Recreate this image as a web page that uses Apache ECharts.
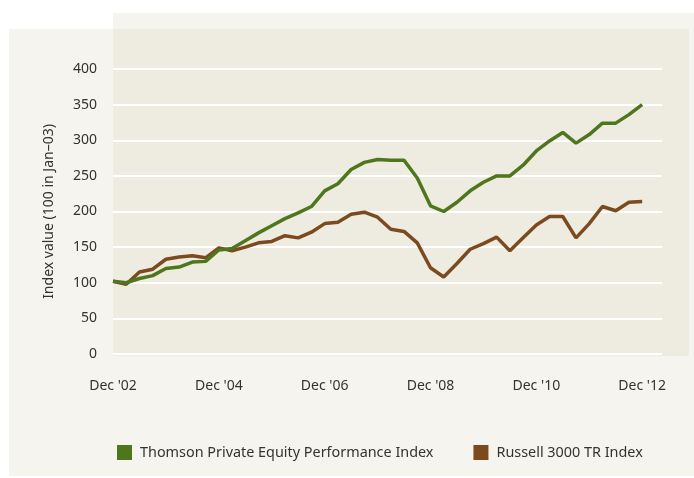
<!DOCTYPE html>
<html lang="en">
<head>
    <meta charset="UTF-8">
    <title>Index value</title>
    <script src="https://cdn.jsdelivr.net/npm/echarts@6/dist/echarts.min.js"></script>
    <style>
        html, body { margin: 0; padding: 0; background: #fff; }
        #main { width: 694px; height: 478px; }
    </style>
</head>
<body>
    <div id="main"></div>
    <script>
        // quarterly points, Dec '02 .. Dec '12
        var tickLabels = ["Dec '02", "Dec '04", "Dec '06", "Dec '08", "Dec '10", "Dec '12"];
        var thomson = [102, 100, 106, 110, 120, 122, 129, 130, 146, 148, 159, 170, 180, 190, 198, 207, 229, 239, 259, 269,
            273, 272, 272, 247, 208, 200, 213, 229, 241, 250, 250, 265, 285, 299, 311, 296, 308, 324, 324, 336, 350];
        var russell = [102, 98, 115, 119, 133, 136, 138, 135, 149, 145, 150, 156, 158, 166, 163, 171, 183, 185, 196, 199,
            192, 175, 172, 156, 121, 108, 127, 147, 155, 164, 145, 163, 181, 193, 193, 163, 183, 207, 201, 213, 214];
        var names = ['Thomson Private Equity Performance Index', 'Russell 3000 TR Index'];
        var colors = ['#4e761c', '#7c4a1f'];

        function pairs(arr) {
            return arr.map(function (v, i) { return [i, v]; });
        }

        var font = 'Noto Sans';
        var fs = 14;
        var myChart = echarts.init(document.getElementById('main'));

        var option = {
            animation: false,
            textStyle: { fontFamily: font },
            graphic: [
                { type: 'rect', z: -10, shape: { x: 9, y: 29, width: 685, height: 447 }, style: { fill: '#f5f4ef' } },
                { type: 'rect', z: -10, shape: { x: 113, y: 13, width: 581, height: 20 }, style: { fill: '#f5f4ef' } },
                { type: 'rect', z: -9, shape: { x: 113, y: 29, width: 576, height: 327 }, style: { fill: '#eeebe0' } }
            ],
            grid: { left: 113, right: 32, top: 69, bottom: 124 },
            legend: {
                left: 112,
                top: 440,
                icon: 'rect',
                itemWidth: 15,
                itemHeight: 15,
                itemGap: 40,
                textStyle: { fontFamily: font, fontSize: 14.4, color: '#333', padding: [0, 0, 0, 3] },
                data: names
            },
            xAxis: {
                type: 'value',
                min: 0,
                max: 41.5,
                interval: 8,
                axisLine: { show: false },
                axisTick: { show: false },
                splitLine: { show: false },
                axisLabel: {
                    showMaxLabel: false,
                    margin: 25,
                    fontSize: fs,
                    color: '#333',
                    fontFamily: font,
                    formatter: function (v) { return tickLabels[v / 8] || ''; }
                }
            },
            yAxis: {
                type: 'value',
                min: 0,
                max: 400,
                interval: 50,
                name: 'Index value (100 in Jan–03)',
                nameLocation: 'middle',
                nameGap: 57,
                nameTextStyle: { fontSize: fs, color: '#333', fontFamily: font },
                axisLine: { show: false },
                axisTick: { show: false },
                axisLabel: { margin: 16, fontSize: fs, color: '#333', fontFamily: font },
                splitLine: { lineStyle: { color: '#ffffff', width: 2 } }
            },
            series: [
                {
                    name: names[0],
                    type: 'line',
                    data: pairs(thomson),
                    showSymbol: false,
                    color: colors[0],
                    lineStyle: { width: 3.5, color: colors[0] },
                    z: 3
                },
                {
                    name: names[1],
                    type: 'line',
                    data: pairs(russell),
                    showSymbol: false,
                    color: colors[1],
                    lineStyle: { width: 3.5, color: colors[1] },
                    z: 2
                }
            ]
        };

        myChart.setOption(option);
    </script>
</body>
</html>
